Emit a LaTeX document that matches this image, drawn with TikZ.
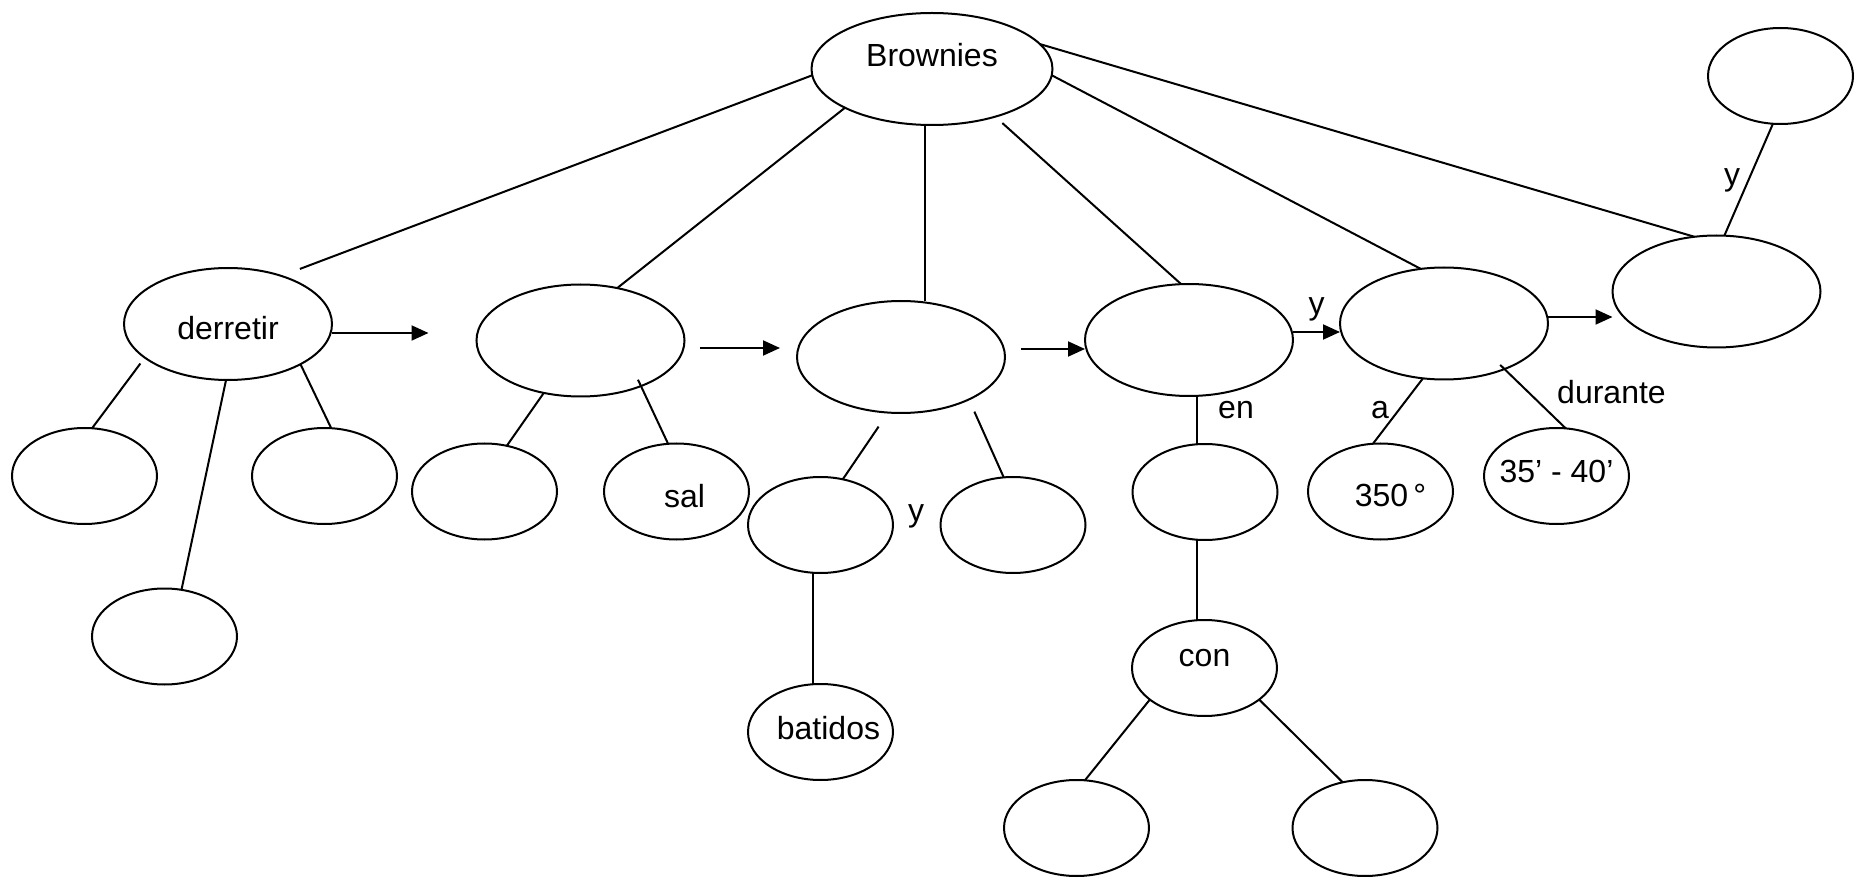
\documentclass[tikz,border=0pt]{standalone}
\usepackage{fontspec}
\setmainfont{Liberation Sans}
\usetikzlibrary{shapes.geometric,arrows.meta,calc}

\begin{document}
\begin{tikzpicture}[x=0.5pt, y=-0.5pt, line width=1pt,
    every node/.style={font=\fontsize{16}{19}\selectfont},
    bigell/.style={draw, ellipse, minimum width=104pt, minimum height=56pt, inner sep=0pt, outer sep=0pt},
    smallell/.style={draw, ellipse, minimum width=72.5pt, minimum height=48pt, inner sep=0pt, outer sep=0pt},
    arr/.style={-{Triangle[length=8.5pt,width=7.5pt]}}]
    \useasboundingbox (0,0) rectangle (1860,882);

    % Tema
    \node[bigell, minimum width=120.5pt, label={[yshift=6.75pt]center:Brownies}] (brownies) at (932,69) {};

    % Pasos
    \node[bigell, label={[yshift=-2pt]center:derretir}] (derretir) at (228,324) {};
    \node[bigell] (paso2) at (580.5,340.5) {};
    \node[bigell] (paso3) at (901,357) {};
    \node[bigell] (paso4) at (1189,340) {};
    \node[bigell] (paso5) at (1444,323.5) {};
    \node[bigell] (paso6) at (1716.5,291.5) {};
    \node[smallell] (extra) at (1780.5,76) {};

    % derretir
    \node[smallell] (der1) at (84.5,476) {};
    \node[smallell] (der2) at (324.5,476) {};
    \node[smallell] (der3) at (164.5,636.5) {};

    % paso 2
    \node[smallell] (ing1) at (484.5,491.5) {};
    \node[smallell, label={[xshift=4pt,yshift=-2.25pt]center:sal}] (sal) at (676.5,491.5) {};

    % paso 3
    \node[smallell] (mez1) at (820.5,525) {};
    \node[smallell] (mez2) at (1013,525) {};
    \node[smallell, label={[xshift=4pt,yshift=2pt]center:batidos}] (batidos) at (820.5,732) {};

    % paso 4
    \node[smallell] (molde) at (1205,492) {};
    \node[smallell, label={[yshift=5pt]center:con}] (con) at (1204.5,668) {};
    \node[smallell] (con1) at (1076.5,828) {};
    \node[smallell] (con2) at (1365,828) {};

    % paso 5
    \node[smallell, label={[xshift=5pt,yshift=-2pt]center:350\,°}] (grados) at (1380.5,491.5) {};
    \node[smallell, label={[yshift=2.25pt]center:35’ - 40’}] (tiempo) at (1556.5,476) {};

    % Brownies -> pasos
    \draw[shorten >=9.9pt] (brownies.183) -- (derretir.42);
    \draw (brownies.204) -- (paso2.55);
    \draw (brownies.263) -- (brownies.263 |- paso3.north);
    \draw[shorten <=4.8pt] (brownies.323) -- (paso4.98);
    \draw (brownies.357) -- (paso5.113);
    \draw (brownies.13) -- (paso6.112);

    % secuencia
    \draw[arr, shorten >=24pt] ([yshift=-4.5pt]derretir.east) -- ([yshift=-4.5pt]derretir.east -| paso2.west);
    \draw[arr, shorten <=7.5pt, shorten >=8.5pt] ([yshift=-3.75pt]paso2.east) -- ([yshift=-3.75pt]paso2.east -| paso3.west);
    \draw[arr, shorten <=8pt] ([yshift=4pt]paso3.east) -- ([yshift=4pt]paso3.east -| paso4.west);
    \draw[arr] ([yshift=4pt]paso4.east) -- ([yshift=4pt]paso4.east -| paso5.west);
    \draw[arr] ([yshift=3.25pt]paso5.east) -- ([yshift=3.25pt]paso5.east -| paso6.west);
    \draw (extra.261) -- (paso6.82);

    % ramas
    \draw[shorten <=3.7pt] (derretir.202) -- (der1.81);
    \draw (derretir.268) -- (der3.70);
    \draw (derretir.331) -- (der2.82);
    \draw (paso2.235) -- (ing1.64);
    \draw[shorten <=-3.5pt] (paso2.323) -- (sal.100);
    \draw[shorten <=8.5pt] (paso3.257) -- (mez1.64);
    \draw[shorten <=6.7pt] (paso3.328) -- (mez2.101);
    \draw ([xshift=-3.75pt]mez1.south) -- ([xshift=-3.75pt]batidos.north);
    \draw ([xshift=4pt]paso4.south) -- ([xshift=4pt]paso4.south |- molde.north);
    \draw ([xshift=-4pt]molde.south) -- ([xshift=-4pt]molde.south |- con.north);
    \draw (con.210) -- (con1.80);
    \draw (con.330) -- (con2.116);
    \draw (paso5.249) -- (grados.99);
    \draw[shorten <=-3pt] (paso5.323) -- (tiempo.79);

    % conectores
    \node (y1) at (916,516.5) {y};
    \node (y2) at (1316.5,309) {y};
    \node (en) at (1236,410.5) {en};
    \node (a) at (1380,410.5) {a};
    \node (durante) at (1611.5,392.5) {durante};
    \node (y3) at (1732,180.5) {y};
\end{tikzpicture}
\end{document}
